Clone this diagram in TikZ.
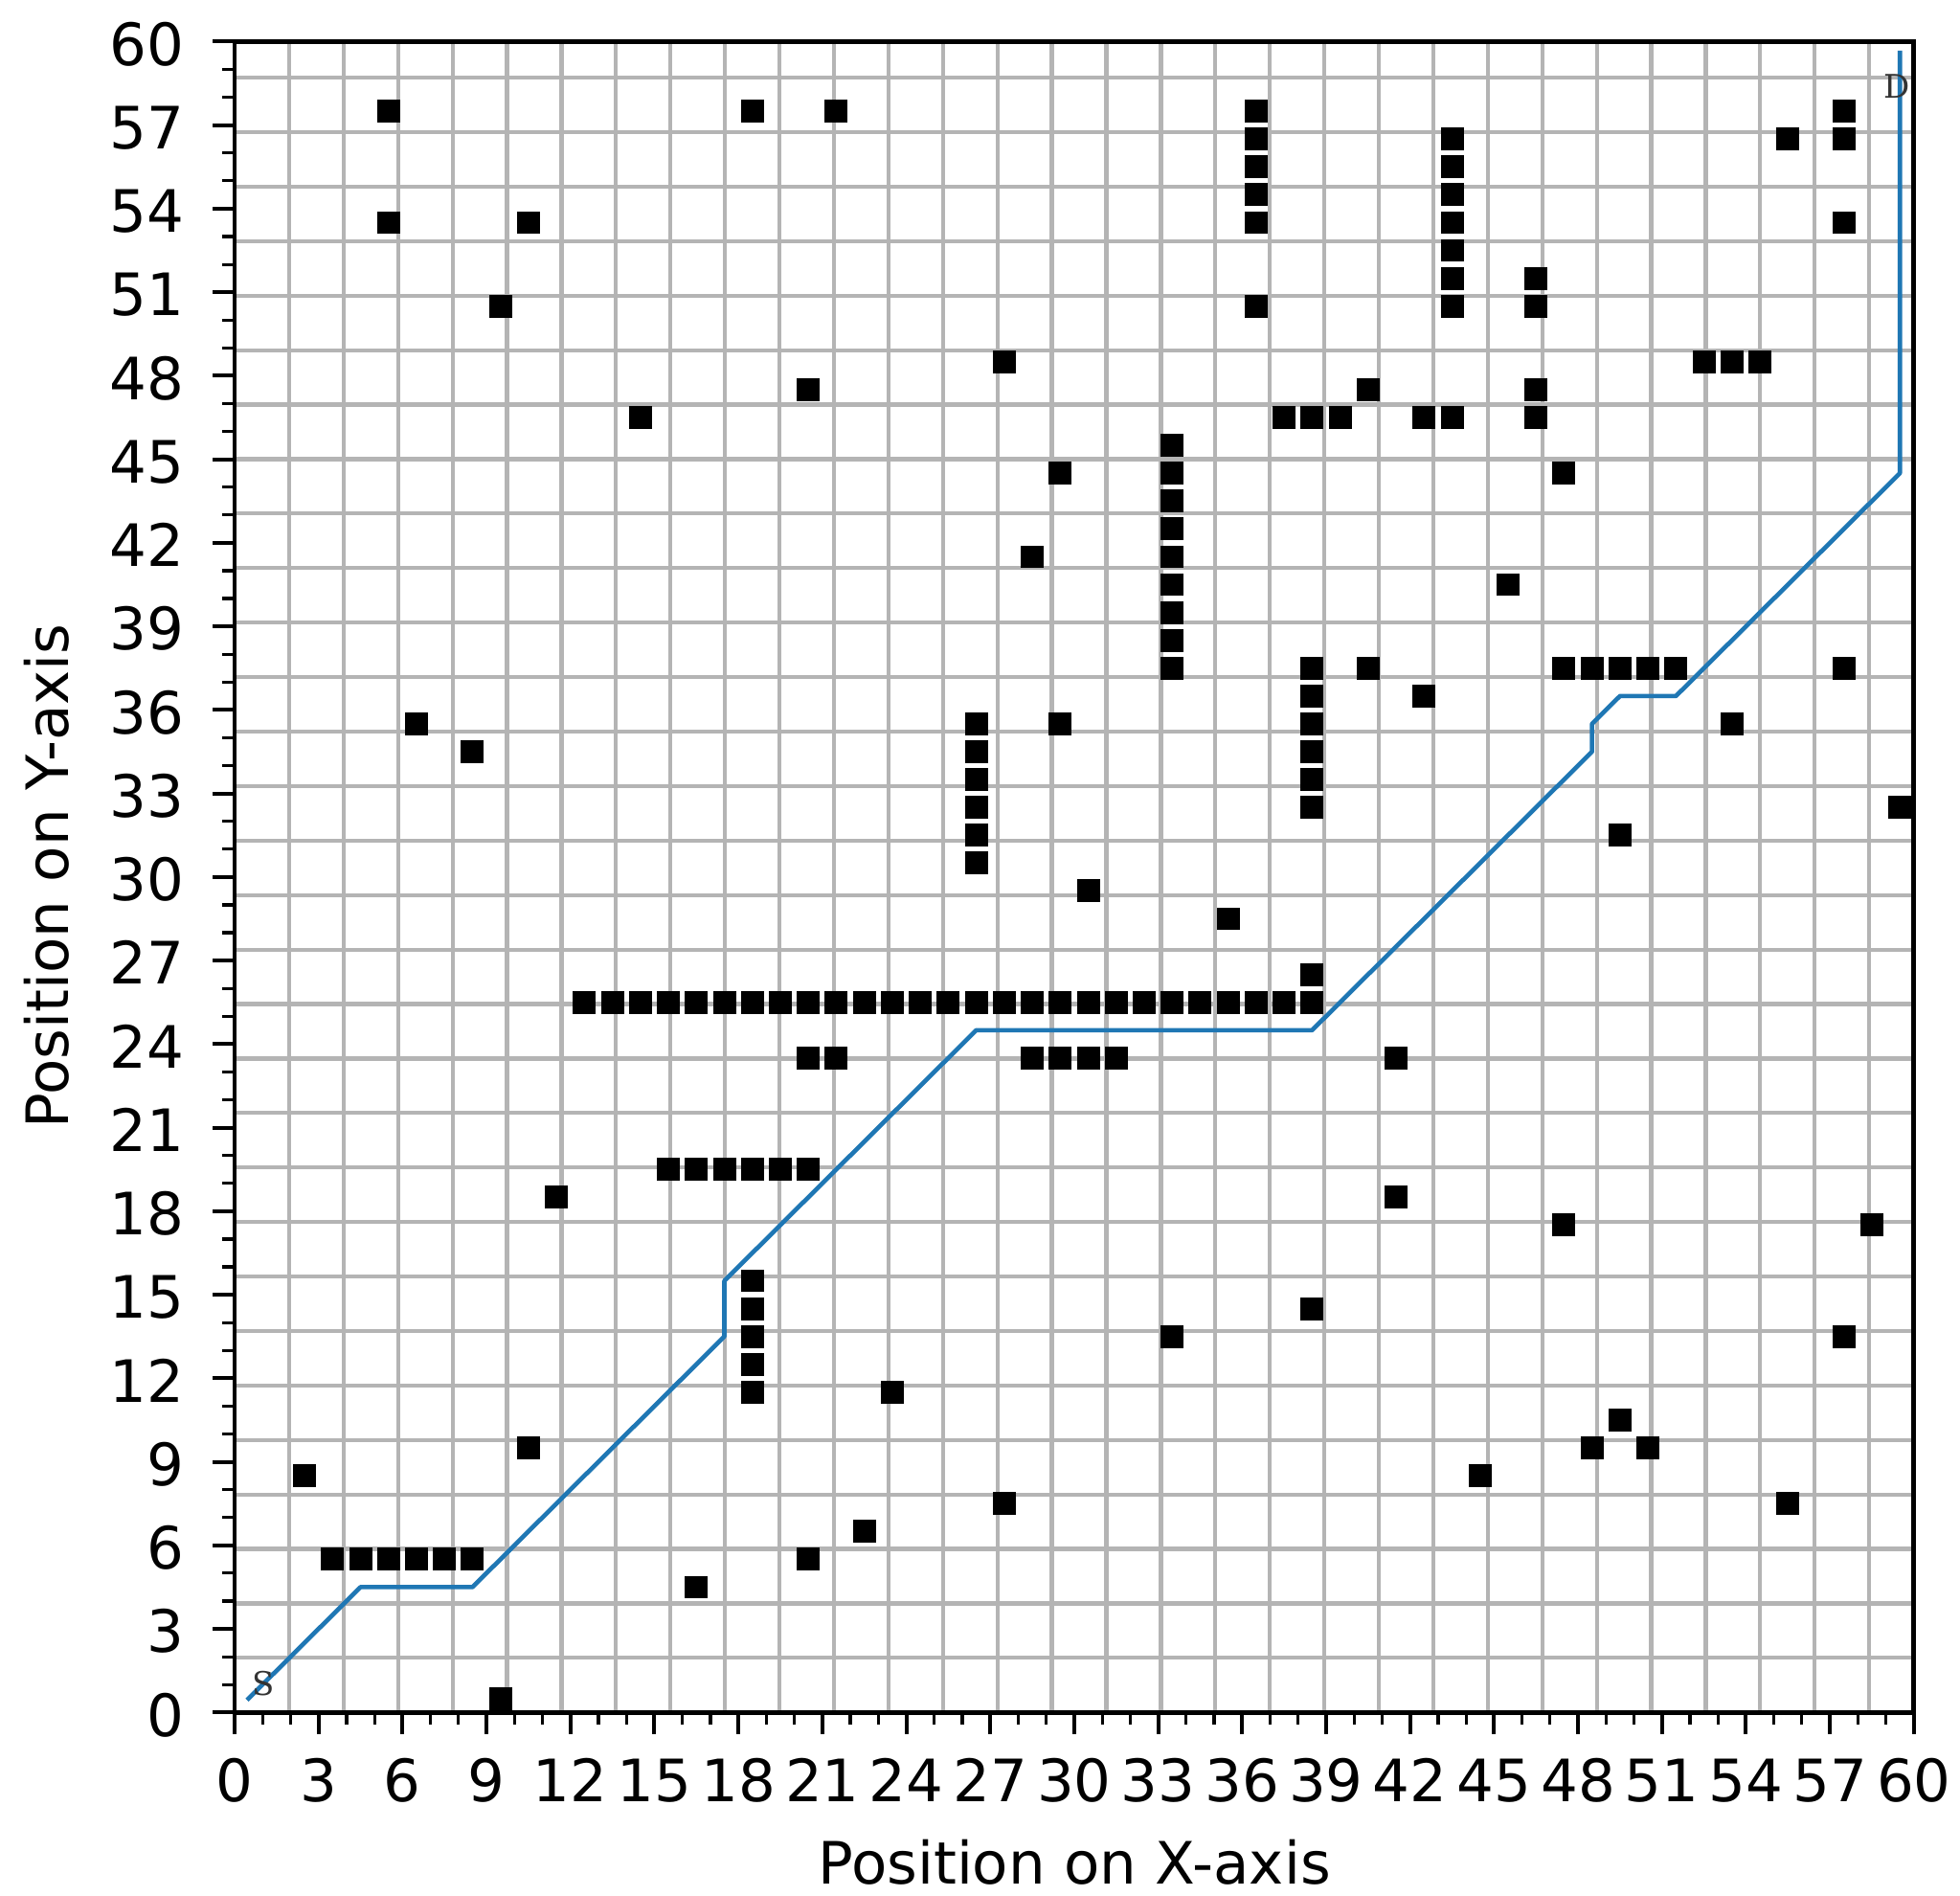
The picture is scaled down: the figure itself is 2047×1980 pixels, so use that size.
\documentclass[tikz,border=0pt]{standalone}
\usepackage{fontspec}
\setmainfont{DejaVu Sans}
\newfontfamily\sdfont{DejaVu Serif}
\definecolor{mplblue}{HTML}{1F77B4}
\definecolor{gridgray}{HTML}{B4B4B4}
\tikzset{
  gridline/.style={draw=gridgray,line width=2.1pt},
  obst/.style={fill=black},
  frameline/.style={draw=black,line width=2.4pt},
  tickmaj/.style={draw=black,line width=2pt},
  tickmin/.style={draw=black,line width=1.6pt},
  ticklab/.style={inner sep=0pt,font=\fontsize{30.5}{36}\selectfont},
  axlab/.style={inner sep=0pt,font=\fontsize{30.5}{36}\selectfont},
  route/.style={draw=mplblue,line width=2.3pt,line join=round,line cap=rect},
  sdlab/.style={inner sep=0pt,text=black!80,font=\sdfont\fontsize{17}{20}\selectfont}
}
\newcommand{\obcell}[2]{\fill[obst] (#1+0.09,#2+0.09) rectangle (#1+0.91,#2+0.91);}
\begin{document}
\begin{tikzpicture}[x=0.5pt,y=0.5pt]
\useasboundingbox (0,0) rectangle (2047,1980);
\fill[white] (0,0) rectangle (2047,1980);
\begin{scope}[shift={(122.5pt,95.85pt)},x=14.615pt,y=14.54pt]
  % grid
  \draw[gridline] (0,0) grid (60,60);
  % obstacles
  \foreach \i/\j in {5/57,18/57,21/57,36/50,55/56,57/57,57/56,57/53,5/53,10/53,9/50,
      46/51,46/50,46/47,46/46,27/48,52/48,53/48,54/48,20/47,40/47,
      14/46,37/46,38/46,39/46,42/46,43/46,29/44,47/44,28/41,45/40,
      40/37,47/37,48/37,49/37,50/37,51/37,57/37,42/36,
      6/35,29/35,53/35,8/34,59/32,49/31,30/29,35/28,38/26,
      20/23,21/23,28/23,29/23,30/23,31/23,41/23,
      11/18,41/18,47/17,58/17,38/14,33/13,57/13,23/11,49/10,
      10/9,48/9,50/9,2/8,44/8,27/7,55/7,22/6,20/5,16/4,9/0}
    {\obcell{\i}{\j}}
  \foreach \j in {53,...,57} {\obcell{36}{\j}}
  \foreach \j in {50,...,56} {\obcell{43}{\j}}
  \foreach \j in {37,...,45} {\obcell{33}{\j}}
  \foreach \j in {32,...,37} {\obcell{38}{\j}}
  \foreach \j in {30,...,35} {\obcell{26}{\j}}
  \foreach \j in {11,...,15} {\obcell{18}{\j}}
  \foreach \i in {12,...,38} {\obcell{\i}{25}}
  \foreach \i in {15,...,20} {\obcell{\i}{19}}
  \foreach \i in {3,...,8} {\obcell{\i}{5}}
  % path
  \coordinate (p0) at (0.5,0.5);
  \coordinate (p1) at (4.5,4.5);
  \coordinate (p2) at (8.5,4.5);
  \coordinate (p3) at (17.5,13.5);
  \coordinate (p4) at (17.5,15.5);
  \coordinate (p5) at (26.5,24.5);
  \coordinate (p6) at (38.5,24.5);
  \coordinate (p7) at (48.5,34.5);
  \coordinate (p8) at (48.5,35.5);
  \coordinate (p9) at (49.5,36.5);
  \coordinate (p10) at (51.5,36.5);
  \coordinate (p11) at (59.5,44.5);
  \coordinate (p12) at (59.5,59.6);
  \draw[route] (p0) -- (p1) -- (p2) -- (p3) -- (p4) -- (p5) -- (p6) -- (p7) -- (p8) -- (p9) -- (p10) -- (p11) -- (p12);
  \node[sdlab] (S) at (1.03,1.04) {S};
  \node[sdlab] (D) at (59.4,58.4) {D};
  % ticks
  \foreach \k in {0,...,60} {
    \draw[tickmin] (\k,0) -- ++(0,-6.5pt);
    \draw[tickmin] (0,\k) -- ++(-6.5pt,0);
  }
  \foreach \k in {0,3,...,60} {
    \draw[tickmaj] (\k,0) -- ++(0,-11.5pt);
    \draw[tickmaj] (0,\k) -- ++(-11.5pt,0);
    \node[ticklab,anchor=base,yshift=-46.7pt] (xt\k) at (\k,0) {\k};
    \node[ticklab,anchor=base east,xshift=-26pt,yshift=-12.4pt] (yt\k) at (0,\k) {\k};
  }
  \draw[frameline] (0,0) rectangle (60,60);
\end{scope}
\node[axlab,anchor=base] (xl) at (1122,12) {Position on X-axis};
\node[axlab,anchor=base,rotate=90] (yl) at (71.7,1065) {Position on Y-axis};
\end{tikzpicture}
\end{document}
